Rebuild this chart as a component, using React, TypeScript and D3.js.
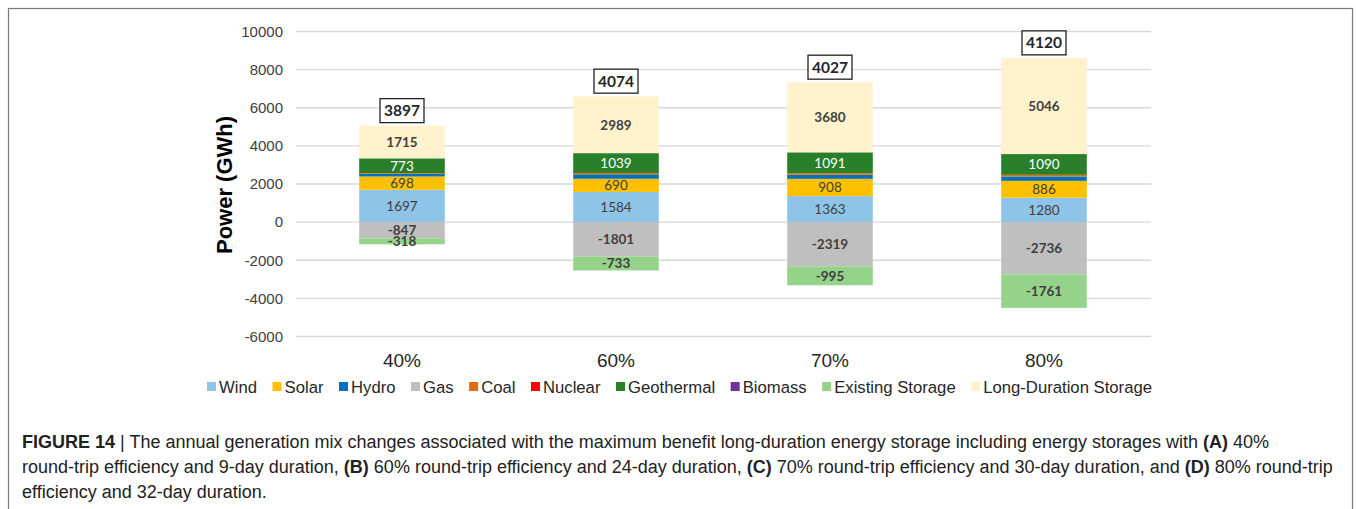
import React, { useEffect, useRef } from 'react';
import * as d3 from 'd3';

const categories = ['40%', '60%', '70%', '80%'];
const seriesNames = ['Wind', 'Solar', 'Hydro', 'Gas', 'Coal', 'Nuclear', 'Geothermal', 'Biomass', 'Existing Storage', 'Long-Duration Storage'];
const wind = [1697, 1584, 1363, 1280];
const solar = [698, 690, 908, 886];
const hydro = [135, 235, 210, 230];
const gas = [-847, -1801, -2319, -2736];
const coal = [44, 71, 89, 85];
const nuclear = [0, 0, 0, 0];
const geothermal = [773, 1039, 1091, 1090];
const biomass = [0, 0, 0, 0];
const existingStorage = [-318, -733, -995, -1761];
const longDurationStorage = [1715, 2989, 3680, 5046];
const yTicks = [-6000, -4000, -2000, 0, 2000, 4000, 6000, 8000, 10000];

const seriesValues = [wind, solar, hydro, gas, coal, nuclear, geothermal, biomass, existingStorage, longDurationStorage];
const colors = ['#8EC4E8', '#FFC000', '#0070C0', '#BFBFBF', '#E46C0A', '#FF0000', '#2A7F2A', '#7030A0', '#95D28A', '#FFF2CC'];
const labelStyle: Record<string, { fill: string; weight: string } | null> = {
  'Wind': { fill: '#404040', weight: '400' },
  'Solar': { fill: '#404040', weight: '400' },
  'Gas': { fill: '#404040', weight: '700' },
  'Geothermal': { fill: '#ffffff', weight: '400' },
  'Existing Storage': { fill: '#404040', weight: '700' },
  'Long-Duration Storage': { fill: '#404040', weight: '700' },
};

const captionLines: { text: string; bold: boolean }[][] = [
  [
    { text: 'FIGURE 14 ', bold: true },
    { text: '| The annual generation mix changes associated with the maximum benefit long-duration energy storage including energy storages with ', bold: false },
    { text: '(A)', bold: true },
    { text: ' 40%', bold: false },
  ],
  [
    { text: 'round-trip efficiency and 9-day duration, ', bold: false },
    { text: '(B)', bold: true },
    { text: ' 60% round-trip efficiency and 24-day duration, ', bold: false },
    { text: '(C)', bold: true },
    { text: ' 70% round-trip efficiency and 30-day duration, and ', bold: false },
    { text: '(D)', bold: true },
    { text: ' 80% round-trip', bold: false },
  ],
  [{ text: 'efficiency and 32-day duration.', bold: false }],
];

export default function App() {
  const ref = useRef<SVGSVGElement>(null);

  useEffect(() => {
    const svg = d3.select(ref.current);
    svg.selectAll('*').remove();

    // frame
    svg.append('rect').attr('x', 8.5).attr('y', 8.5).attr('width', 1344).attr('height', 520)
      .attr('fill', '#fff').attr('stroke', '#7a7a7a').attr('stroke-width', 1.2);

    const x = d3.scaleBand<string>().domain(categories).range([295, 1151]).padding(0);
    const y = d3.scaleLinear().domain([-6000, 10000]).range([336.5, 31.5]);
    const barW = x.bandwidth() * 0.4;

    // gridlines
    svg.append('g').selectAll('line').data(yTicks).join('line')
      .attr('x1', 296).attr('x2', 1151)
      .attr('y1', d => y(d)).attr('y2', d => y(d))
      .attr('stroke', '#d9d9d9').attr('stroke-width', 1.3);

    // y tick labels
    svg.append('g').selectAll('text').data(yTicks).join('text')
      .attr('x', 283).attr('y', d => y(d)).attr('dy', '0.35em')
      .attr('text-anchor', 'end')
      .attr('font-family', '"Liberation Sans", Arial, sans-serif')
      .attr('font-size', 15).attr('fill', '#404040')
      .text(d => String(d));

    // y title
    svg.append('text')
      .attr('transform', `translate(232,185) rotate(-90)`)
      .attr('text-anchor', 'middle')
      .attr('font-family', '"Liberation Sans", Arial, sans-serif')
      .attr('font-size', 22).attr('font-weight', 700).attr('fill', '#000')
      .text('Power (GWh)');

    // stack
    const rows = categories.map((c, i) => {
      const r: Record<string, number | string> = { cat: c };
      seriesNames.forEach((s, k) => { r[s] = seriesValues[k][i]; });
      return r;
    });
    const stack = d3.stack<any>().keys(seriesNames).offset(d3.stackOffsetDiverging);
    const stacked = stack(rows as any);

    const gBars = svg.append('g');
    stacked.forEach((layer, k) => {
      gBars.append('g').selectAll('rect').data(layer).join('rect')
        .attr('x', d => (x(d.data.cat as string) as number) + (x.bandwidth() - barW) / 2)
        .attr('width', barW)
        .attr('y', d => y(Math.max(d[0], d[1])))
        .attr('height', d => Math.abs(y(d[0]) - y(d[1])))
        .attr('fill', colors[k]);
    });

    // segment labels
    stacked.forEach((layer, k) => {
      const st = labelStyle[seriesNames[k]];
      if (!st) return;
      svg.append('g').selectAll('text').data(layer).join('text')
        .attr('x', d => (x(d.data.cat as string) as number) + x.bandwidth() / 2)
        .attr('y', d => y((d[0] + d[1]) / 2))
        .attr('dy', '0.36em')
        .attr('text-anchor', 'middle')
        .attr('font-family', 'Lato, "Open Sans", sans-serif')
        .attr('font-size', 13.5).attr('font-weight', st.weight).attr('fill', st.fill)
        .text(d => String(d.data[seriesNames[k]]));
    });

    // totals (net sums)
    const totals = categories.map((c, i) => d3.sum(seriesValues, s => s[i]));
    const tops = categories.map((c, i) => d3.sum(seriesValues, s => Math.max(0, s[i])));
    const gTot = svg.append('g');
    categories.forEach((c, i) => {
      const cx = (x(c) as number) + x.bandwidth() / 2;
      const top = y(tops[i]);
      gTot.append('rect').attr('x', cx - 22).attr('y', top - 27).attr('width', 44).attr('height', 24)
        .attr('fill', '#fff').attr('stroke', '#222').attr('stroke-width', 1.3);
      gTot.append('text').attr('x', cx).attr('y', top - 15).attr('dy', '0.36em')
        .attr('text-anchor', 'middle')
        .attr('font-family', 'Lato, "Open Sans", sans-serif')
        .attr('font-size', 15.5).attr('font-weight', 700).attr('fill', '#262626')
        .text(String(totals[i]));
    });

    // x labels
    svg.append('g').selectAll('text').data(categories).join('text')
      .attr('x', d => (x(d) as number) + x.bandwidth() / 2).attr('y', 367)
      .attr('text-anchor', 'middle')
      .attr('font-family', '"Liberation Sans", Arial, sans-serif')
      .attr('font-size', 19).attr('fill', '#262626')
      .text(d => d);

    // legend
    const gLeg = svg.append('g');
    let lx = 207;
    seriesNames.forEach((s, k) => {
      gLeg.append('rect').attr('x', lx).attr('y', 382).attr('width', 9).attr('height', 9).attr('fill', colors[k]);
      const t = gLeg.append('text').attr('x', lx + 12).attr('y', 392.5)
        .attr('font-family', '"Liberation Sans", Arial, sans-serif')
        .attr('font-size', 16.7).attr('fill', '#262626').text(s);
      const w = (t.node() as SVGTextElement).getComputedTextLength();
      lx += 12 + w + 15.5;
    });

    // caption
    const baselines = [448, 473, 498];
    captionLines.forEach((line, li) => {
      const t = svg.append('text').attr('x', 22).attr('y', baselines[li])
        .attr('font-family', '"Liberation Sans", Arial, sans-serif')
        .attr('font-size', 18).attr('fill', '#222');
      line.forEach(seg => {
        t.append('tspan').attr('font-weight', seg.bold ? 700 : 400).text(seg.text);
      });
    });
  }, []);

  return (
    <svg ref={ref} width={1356} height={509}
      style={{ position: 'absolute', left: 0, top: 0, display: 'block', background: '#fff' }} />
  );
}
